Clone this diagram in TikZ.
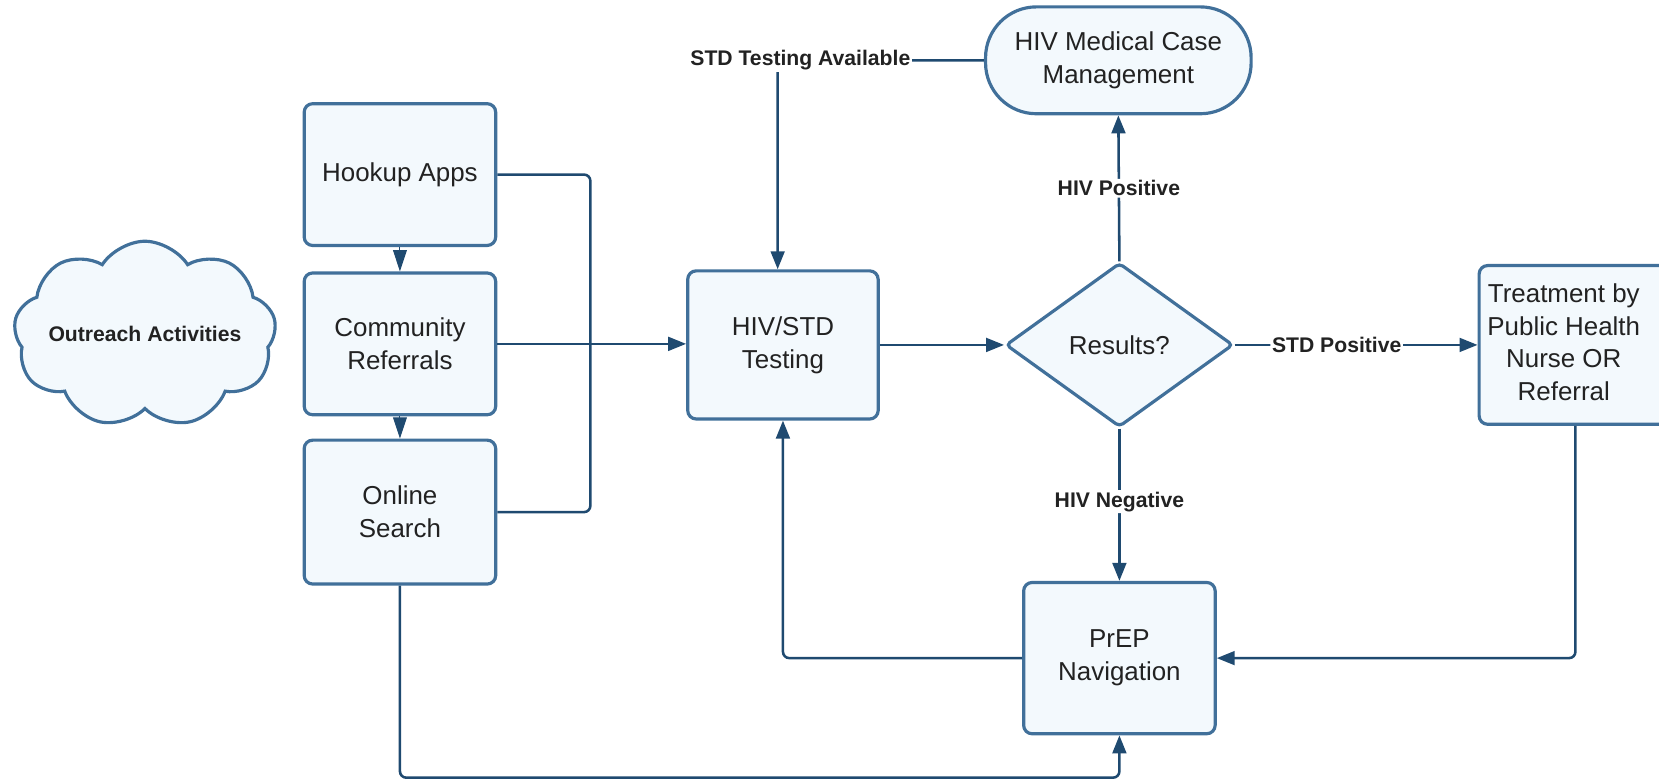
\documentclass[tikz,border=0pt]{standalone}
\usepackage{fontspec}
\setmainfont{Liberation Sans}
\usetikzlibrary{shapes.geometric,shapes.symbols,arrows.meta}
\definecolor{bx}{HTML}{41709A}
\definecolor{bf}{HTML}{F3F9FD}
\definecolor{ln}{HTML}{1F4A70}
\definecolor{tx}{HTML}{222222}
\begin{document}
\begin{tikzpicture}[x=1pt,y=-1pt,
  box/.style={draw=bx, fill=bf, line width=3pt, rounded corners=8pt, inner sep=0pt,
    align=center, text=tx, font=\fontsize{24.5}{31}\selectfont},
  conn/.style={draw=ln, line width=2.4pt, rounded corners=6pt},
  arr/.style={conn, -{Triangle[length=17pt,width=13pt]}},
  lab/.style={fill=white, text=tx, font=\bfseries\fontsize{20}{22}\selectfont, inner sep=1.5pt}]
\useasboundingbox (0,0) rectangle (1568,740);

% nodes
\node[cloud, cloud puffs=9, cloud puff arc=115, draw=bx, fill=bf, line width=3pt,
  minimum width=248pt, minimum height=176pt, inner sep=0pt, text=tx,
  font=\bfseries\fontsize{20}{22}\selectfont] (cloud) at (137,316) {\makebox[0pt]{Outreach Activities}};
\node[box, minimum width=181pt, minimum height=134pt] (hook) at (378,165) {Hookup Apps};
\node[box, minimum width=181pt, minimum height=134pt] (comm) at (378,325) {Community\\Referrals};
\node[box, minimum width=181pt, minimum height=136pt] (onl) at (378,484) {Online\\Search};
\node[box, minimum width=180pt, minimum height=140pt] (test) at (740,326) {HIV/STD\\Testing};
\node[diamond, draw=bx, fill=bf, line width=3pt, rounded corners=4pt, inner sep=0pt,
  aspect=1.39, minimum width=215pt, minimum height=155pt, text=tx,
  font=\fontsize{24.5}{31}\selectfont] (res) at (1058,326) {Results?};
\node[box, rounded corners=48pt, minimum width=251pt, minimum height=101pt] (med) at (1057,57) {HIV Medical Case\\Management};
\node[box, minimum width=182pt, minimum height=150pt] (treat) at (1489,326)
  {\begin{tabular}{@{}c@{}}Treatment by\\Public Health\\Nurse OR\\Referral\end{tabular}\hspace{22pt}};
\node[box, minimum width=181pt, minimum height=143pt] (prep) at (1058,622) {PrEP\\Navigation};

% connectors
\coordinate (bus) at (558,325);
\coordinate (c1) at (735,57);
\coordinate (c2) at (378,735);

\draw[-{Triangle[length=20pt,width=13pt]}, draw=ln, fill=ln, line width=1pt] (hook.south) -- (comm.north);
\draw[-{Triangle[length=20pt,width=13pt]}, draw=ln, fill=ln, line width=1pt] (comm.south) -- (onl.north);

\draw[conn] (hook.east) -| (bus) |- (onl.east);
\draw[arr] (comm.east) -- (comm.east -| test.west);
\draw[arr] (test.east) -- (res.west);
\draw[arr] (res.north) -- (med.south) node[lab, pos=0.5] (lpos) {HIV Positive};
\draw[arr] (res.east) -- (treat.west) node[lab, pos=0.42] (lstd) {STD Positive};
\draw[arr] (res.south) -- (prep.north) node[lab, pos=0.48] (lneg) {HIV Negative};
\draw[arr] (med.west) -- (c1) -- (c1 |- test.north);
\path (med.west) -- (c1) node[lab, pos=0.89] (lavail) {STD Testing Available};
\draw[arr] (treat.south) |- (prep.east);
\draw[arr] (prep.west) -| (test.south);
\draw[arr] (onl.south) -- (c2) -| (prep.south);
\end{tikzpicture}
\end{document}
